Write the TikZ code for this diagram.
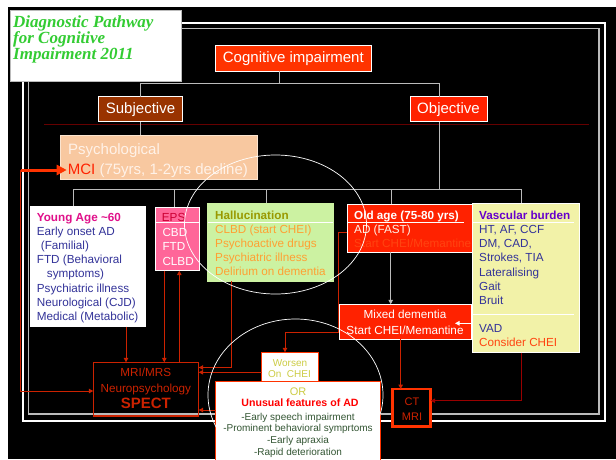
\documentclass[tikz,border=0pt]{standalone}
\usepackage{fontspec}
\setmainfont{Liberation Sans}
\newfontfamily\titlefont{Liberation Serif}
\usetikzlibrary{arrows.meta,calc}
\definecolor{cogred}{HTML}{FF3300}
\definecolor{objred}{HTML}{FF2200}
\definecolor{brownbox}{HTML}{993300}
\definecolor{darkline}{HTML}{660000}
\definecolor{peach}{HTML}{F8C8A0}
\definecolor{psychtxt}{HTML}{FFF2E8}
\definecolor{mag}{HTML}{E0108A}
\definecolor{navy}{HTML}{333399}
\definecolor{pinkbox}{HTML}{FF6699}
\definecolor{epsred}{HTML}{CC0033}
\definecolor{hallfill}{HTML}{CCF2A2}
\definecolor{olive}{HTML}{999900}
\definecolor{orangetxt}{HTML}{FFA033}
\definecolor{vascfill}{HTML}{F2F2A8}
\definecolor{purp}{HTML}{6600CC}
\definecolor{consid}{HTML}{FF4411}
\definecolor{linered}{HTML}{CC2200}
\definecolor{linedark}{HTML}{990000}
\definecolor{worsentxt}{HTML}{CCCC44}
\definecolor{unusred}{HTML}{FF0000}
\definecolor{unusgreen}{HTML}{335533}
\definecolor{gline}{HTML}{BBBBBB}
\definecolor{titlegreen}{HTML}{33CC33}
\definecolor{oldtxt}{HTML}{FF4410}
\begin{document}
\begin{tikzpicture}[x=1pt,y=-1pt,
  box/.style={anchor=north west, inner sep=0pt, outer sep=0pt, draw=white, line width=0.8pt},
  txt/.style={inner sep=0pt, anchor=base west, font=\fontsize{11.7}{14}\selectfont},
  ctxt/.style={inner sep=0pt, anchor=base, font=\fontsize{11.7}{14}\selectfont},
  bigtxt/.style={inner sep=0pt, font=\fontsize{15}{18}\selectfont},
  gl/.style={draw=gline, line width=1pt},
  rl/.style={draw=linered, line width=1pt},
  tip/.style={-{Triangle[length=4.5pt,width=4.5pt]}},
  sep/.style={draw=white, line width=0.8pt}
]
\useasboundingbox (0,0) rectangle (616,459);
\clip (0,0) rectangle (616,459);
\fill[white] (0,0) rectangle (616,459);
\fill[black] (8,7.3) rectangle (616,459);
% frame
\draw[white, line width=2pt] (22.7,22.7) rectangle (605,421);
\draw[gline, line width=1.3pt] (28.5,28.3) rectangle (599,414);
% dark red rule
\draw[darkline, line width=1pt] (44,124) -- (589,124);

% ---- boxes (top) ----
\node[box, draw=gline, fill=white, minimum width=171pt, minimum height=71pt] (title) at (10.7,10.7) {};
\node[inner sep=0pt, anchor=base west, text=titlegreen, font=\titlefont\fontsize{17}{16}\selectfont\bfseries\itshape] (tt1) at (13,27) {Diagnostic Pathway};
\node[inner sep=0pt, anchor=base west, text=titlegreen, font=\titlefont\fontsize{17}{16}\selectfont\bfseries\itshape] (tt2) at (13,43) {for Cognitive};
\node[inner sep=0pt, anchor=base west, text=titlegreen, font=\titlefont\fontsize{17}{16}\selectfont\bfseries\itshape] (tt3) at (13,59) {Impairment 2011};

\node[box, fill=cogred, minimum width=156.7pt, minimum height=25.3pt, text=white, font=\fontsize{15}{18}\selectfont] (cog) at (215,45.7) {Cognitive impairment};
\node[box, fill=brownbox, minimum width=84pt, minimum height=25pt, text=white, font=\fontsize{15}{18}\selectfont] (subj) at (98.5,96.7) {Subjective};
\node[box, fill=objred, minimum width=77pt, minimum height=25pt, text=white, font=\fontsize{15}{18}\selectfont] (obj) at (410,96.7) {Objective};

% connectors top
\coordinate (jc) at (279.3,83);
\coordinate (jl) at (140.5,83);
\coordinate (jo) at (439,83);
\draw[gl] (jc |- cog.south) -- (jc);
\draw[gl] (jl |- subj.north) -- (jl) -- (jo) -- (jo |- obj.north);

\node[box, draw=peach!50!white, fill=peach, minimum width=197pt, minimum height=44pt] (psych) at (60.7,135) {};
\node[bigtxt, anchor=base west, text=psychtxt] (ps1) at (68,154.4) {Psychological};
\node[bigtxt, anchor=base west, text=psychtxt] (ps2) at (67.7,174.4) {\textcolor{objred}{MCI} (75yrs, 1-2yrs decline)};
\draw[gl] (subj.south) -- (subj.south |- psych.north);

\coordinate (ob) at (439,189);
\draw[gl] (obj.south -| ob) -- (ob);
\coordinate (d1) at (73,189);
\coordinate (d2) at (174,189);
\coordinate (d3) at (266,189);
\coordinate (d4) at (391,189);
\coordinate (d5) at (521,189);
\draw[gl] (d1) -- (d5);

% ---- middle boxes ----
\node[box, draw=none, fill=white, minimum width=115.7pt, minimum height=121pt] (young) at (30,205.7) {};
\node[txt, text=mag, font=\fontsize{11.7}{14}\selectfont\bfseries] (y0) at (36.7,221) {Young Age \textasciitilde 60};
\node[txt, text=navy] (y1) at (36.7,235.2) {Early onset AD};
\node[txt, text=navy] (y2) at (40.7,249.4) {(Familial)};
\node[txt, text=navy] (y3) at (36.7,263.6) {FTD (Behavioral};
\node[txt, text=navy] (y4) at (46.7,277.8) {symptoms)};
\node[txt, text=navy] (y5) at (36.7,292) {Psychiatric illness};
\node[txt, text=navy] (y6) at (36.7,306.2) {Neurological (CJD)};
\node[txt, text=navy] (y7) at (36.7,320.4) {Medical (Metabolic)};

\node[box, fill=pinkbox, minimum width=44.3pt, minimum height=63.7pt] (eps) at (155,207) {};
\draw[sep] ($(eps.north west)+(0,15.3)$) -- ($(eps.north east)+(0,15.3)$);
\node[txt, text=epsred] (e0) at (161.7,221.5) {EPS};
\node[txt, text=white] (e1) at (162.3,236) {CBD};
\node[txt, text=white] (e2) at (162.3,250.5) {FTD};
\node[txt, text=white] (e3) at (162.3,265) {CLBD};

\node[box, draw=hallfill, fill=hallfill, minimum width=125.6pt, minimum height=77.7pt] (hall) at (207.7,203.3) {};
\draw[sep] ($(hall.north west)+(0,19)$) -- ($(hall.north east)+(0,19)$);
\node[txt, text=olive, font=\fontsize{11.7}{14}\selectfont\bfseries] (h0) at (215,219.3) {Hallucination};
\node[txt, text=orangetxt] (h1t) at (215,233.5) {CLBD (start CHEI)};
\node[txt, text=orangetxt] (h2t) at (215,247.6) {Psychoactive drugs};
\node[txt, text=orangetxt] (h3t) at (215,261.6) {Psychiatric illness};
\node[txt, text=orangetxt] (h4t) at (215,275.4) {Delirium on dementia};

\node[box, fill=objred, minimum width=125.4pt, minimum height=48.3pt] (old) at (347.3,204) {};
\draw[sep] ($(old.north west)+(0,18.3)$) -- ($(old.north west)+(116.7,18.3)$);
\node[txt, text=white, font=\fontsize{11.7}{14}\selectfont\bfseries] (o0) at (354,219.3) {Old age (75-80 yrs)};
\node[txt, text=psychtxt] (o1) at (354,233.5) {AD (FAST)};
\node[txt, text=oldtxt] (o2) at (354,247.2) {Start CHEI/Memantine};

\node[box, fill=vascfill, minimum width=106.3pt, minimum height=149.4pt] (vasc) at (472.7,203.3) {};
\draw[sep] ($(vasc.north west)+(0,18.7)$) -- ($(vasc.north west)+(101.5,18.7)$);
\draw[sep] ($(vasc.north west)+(0,111)$) -- ($(vasc.north west)+(101.5,111)$);
\node[txt, text=purp, font=\fontsize{11.7}{14}\selectfont\bfseries] (va0) at (479,219.3) {Vascular burden};
\node[txt, text=navy] (va1) at (479,233.5) {HT, AF, CCF};
\node[txt, text=navy] (va2) at (479,247.6) {DM, CAD,};
\node[txt, text=navy] (va3) at (479,261.8) {Strokes, TIA};
\node[txt, text=navy] (va4) at (479,276) {Lateralising};
\node[txt, text=navy] (va5) at (479,290.2) {Gait};
\node[txt, text=navy] (va6) at (479,304.2) {Bruit};
\node[txt, text=navy] (va7) at (479,332) {VAD};
\node[txt, text=consid] (va8) at (479,346.2) {Consider CHEI};

% drops
\draw[gl] (d1) -- (d1 |- young.north);
\draw[gl] (d2) -- (d2 |- eps.north);
\draw[gl] (d3) -- (d3 |- hall.north);
\draw[gl] (d4) -- (d4 |- old.north);
\draw[gl] (d5) -- (d5 |- vasc.north);

% ---- lower boxes ----
\node[box, fill=objred, minimum width=132.4pt, minimum height=35pt] (mixed) at (339.3,304.3) {};
\node[ctxt, text=white] (m1) at (405,318.5) {Mixed dementia};
\node[ctxt, text=white] (m2) at (405,334.2) {Start CHEI/Memantine};

\node[box, draw=cogred, line width=2.5pt, fill=black, minimum width=38pt, minimum height=37.7pt] (ct) at (392.7,389) {};
\node[inner sep=0pt, anchor=base, text=linered, font=\fontsize{11}{13}\selectfont] (c1) at (412,405.6) {CT};
\node[inner sep=0pt, anchor=base, text=linered, font=\fontsize{11}{13}\selectfont] (c2) at (412,420) {MRI};

\node[box, draw=cogred, fill=white, minimum width=56.6pt, minimum height=28.7pt] (worsen) at (261.7,352.3) {};
\node[inner sep=0pt, anchor=base, text=worsentxt, font=\fontsize{10}{12}\selectfont] (w1t) at (290,366.3) {Worsen};
\node[inner sep=0pt, anchor=base, text=worsentxt, font=\fontsize{10}{12}\selectfont] (w2t) at (289.5,377.6) {On\ \ CHEI};

\node[box, draw=cogred, fill=white, minimum width=164.3pt, minimum height=90pt] (unusual) at (215.7,381) {};
\node[inner sep=0pt, anchor=base, text=worsentxt, font=\fontsize{11}{13}\selectfont] (u0) at (298,395) {OR};
\node[inner sep=0pt, anchor=base, text=unusred, font=\fontsize{10.6}{12}\selectfont\bfseries] (u1) at (300,406.5) {Unusual features of AD};
\node[inner sep=0pt, anchor=base, text=unusgreen, font=\fontsize{10}{12}\selectfont] (u2) at (298,420.3) {-Early speech impairment};
\node[inner sep=0pt, anchor=base, text=unusgreen, font=\fontsize{10}{12}\selectfont] (u3) at (298,431.6) {-Prominent behavioral symprtoms};
\node[inner sep=0pt, anchor=base, text=unusgreen, font=\fontsize{10}{12}\selectfont] (u4) at (298,443.6) {-Early apraxia};
\node[inner sep=0pt, anchor=base, text=unusgreen, font=\fontsize{10}{12}\selectfont] (u5) at (298,455.3) {-Rapid deterioration};

\node[box, draw=linered, line width=1.2pt, minimum width=105.4pt, minimum height=53.7pt] (mri) at (93.3,362.3) {};
\node[ctxt, text=linered] (r1) at (145.8,376.9) {MRI/MRS};
\node[ctxt, text=linered] (r2) at (145.8,392.5) {Neuropsychology};
\node[inner sep=0pt, anchor=base, text=linered, font=\fontsize{15}{18}\selectfont\bfseries] (r3) at (145.8,408.7) {SPECT};

% ---- connectors ----
\coordinate (wa) at (338.3,232);
\coordinate (wb) at (285,332.7);
\draw[rl, tip] (old.west |- wa) -- (wa) |- (wb) -- (wb |- worsen.north);

\coordinate (ha) at (231.7,367.5);
\draw[rl, tip] (ha |- hall.south) -- (ha) -- (ha -| mri.east);
\coordinate (hb) at (230,372.3);
\draw[rl, tip] (worsen.west |- hb) -- (mri.east |- hb);
\coordinate (hc) at (210,410);
\draw[rl, tip] (unusual.west |- hc) -- (mri.east |- hc);

\coordinate (v1) at (126,340);
\coordinate (v2) at (164.3,340);
\coordinate (v3) at (179.3,340);
\draw[rl, tip] (v1 |- young.south) -- (v1 |- mri.north);
\draw[rl, tip] (v2 |- eps.south) -- (v2 |- mri.north);
\draw[rl, tip] (v3 |- mri.north) -- (v3 |- eps.south);

\coordinate (lp) at (20.7,170);
\coordinate (lb) at (20.7,391);
\draw[rl, tip] (lp) -- (lb) -- (mri.west |- lb);
\draw[draw=cogred, line width=3pt, -{Triangle[length=10pt,width=10pt]}] (lp) -- ($(psych.west |- lp)+(6,0)$);

\coordinate (v4) at (390.7,280);
\draw[gl, tip] (v4 |- old.south) -- (v4 |- mixed.north);
\coordinate (v5) at (455,323.3);
\draw[white, line width=0.8pt, tip] (vasc.west |- v5) -- (v5);
\coordinate (v6) at (400.7,360);
\draw[rl, tip] (v6 |- mixed.south) -- (v6 |- ct.north);
\coordinate (v7) at (521,400.7);
\draw[draw=linedark, line width=1pt, tip] (v7 |- vasc.south) -- (v7) -- (ct.east |- v7);

% ---- ellipses ----
\draw[white, line width=0.7pt] (275.5,224.5) ellipse [x radius=91pt, y radius=69.5pt];
\draw[white, line width=0.7pt] (295.5,395) ellipse [x radius=87.5pt, y radius=76pt];
\end{tikzpicture}
\end{document}
